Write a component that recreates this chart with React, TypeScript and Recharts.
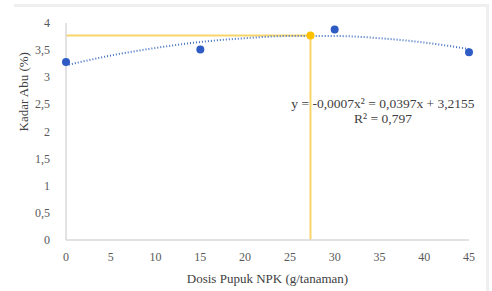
import React from "react";
import { ComposedChart, XAxis, YAxis, Scatter, Line } from "recharts";

const doses = [0, 15, 30, 45];
const ashValues = [3.28, 3.51, 3.88, 3.46];
const trendX = [0, 5, 10, 15, 20, 25, 30, 35, 40, 45];
const trendY = [3.22, 3.4, 3.54, 3.65, 3.72, 3.76, 3.76, 3.72, 3.64, 3.52];
const optimumX = 27.3;
const optimumY = 3.77;
const xTicks = [0, 5, 10, 15, 20, 25, 30, 35, 40, 45];
const yTicks = [0, 0.5, 1, 1.5, 2, 2.5, 3, 3.5, 4];

const pointData = doses.map((x, i) => ({ x, y: ashValues[i] }));
const trendData = trendX.map((x, i) => ({ x, y: trendY[i] }));
const hLine = [
  { x: 0, y: optimumY },
  { x: optimumX, y: optimumY },
];
const vLine = [
  { x: optimumX, y: 0 },
  { x: optimumX, y: optimumY },
];
const optPoint = [{ x: optimumX, y: optimumY }];

const fmt = (v: number) => String(v).replace(".", ",");
const font = "Liberation Serif";

const XTick = (p: any) => (
  <text x={p.x} y={p.y} dy={11} textAnchor="middle" fill="#595959" fontSize={12} fontFamily={font}>
    {p.payload.value}
  </text>
);
const YTick = (p: any) => (
  <text x={p.x} y={p.y} dy={4} textAnchor="end" fill="#595959" fontSize={12} fontFamily={font}>
    {fmt(p.payload.value)}
  </text>
);

export default function App() {
  return (
    <div style={{ position: "absolute", left: 0, top: 0, width: 492, height: 291, background: "#fff", fontFamily: font }}>
      <div style={{ position: "absolute", left: 14, top: 4, width: 472, height: 287, borderTop: "3px solid #efefef", borderRight: "3px solid #efefef" }} />
      <ComposedChart width={492} height={291} margin={{ top: 23, right: 23, bottom: 0, left: 14 }} style={{ fontFamily: font }}>
        <XAxis
          type="number"
          dataKey="x"
          domain={[0, 45]}
          ticks={xTicks}
          interval={0}
          tickLine={false}
          tickSize={6}
          tickMargin={4}
          height={51}
          axisLine={{ stroke: "#d9d9d9", strokeWidth: 1.5 }}
          tick={<XTick />}
          label={{ value: "Dosis Pupuk NPK (g/tanaman)", position: "insideBottom", offset: 8, fill: "#404040", fontSize: 13, fontFamily: font }}
        />
        <YAxis
          type="number"
          dataKey="y"
          domain={[0, 4]}
          ticks={yTicks}
          interval={0}
          width={52}
          tickLine={false}
          tickSize={8}
          tickMargin={8}
          axisLine={{ stroke: "#d9d9d9", strokeWidth: 1.5 }}
          tick={<YTick />}
          label={{ value: "Kadar Abu (%)", angle: -90, position: "insideLeft", offset: 9, fill: "#404040", fontSize: 13, fontFamily: font }}
        />
        <Line data={hLine} dataKey="y" stroke="#F7D56A" strokeWidth={2} dot={false} isAnimationActive={false} />
        <Line data={vLine} dataKey="y" stroke="#F7D56A" strokeWidth={2} dot={false} isAnimationActive={false} />
        <Line data={trendData} dataKey="y" type="monotone" stroke="#4472C4" strokeWidth={2} strokeDasharray="1 2" dot={false} isAnimationActive={false} />
        <Scatter data={pointData} dataKey="y" fill="#2E5CC4" shape={(p: any) => <circle cx={p.cx} cy={p.cy} r={4} fill="#2E5CC4" />} isAnimationActive={false} />
        <Scatter data={optPoint} dataKey="y" fill="#FFC000" shape={(p: any) => <circle cx={p.cx} cy={p.cy} r={4} fill="#FFC000" />} isAnimationActive={false} />
      </ComposedChart>
      <div style={{ position: "absolute", left: 283, top: 96, width: 200, textAlign: "center", fontSize: 13.5, color: "#404040", lineHeight: "15px", whiteSpace: "nowrap" }}>
        <div>y = -0,0007x² = 0,0397x + 3,2155</div>
        <div>R² = 0,797</div>
      </div>
    </div>
  );
}
